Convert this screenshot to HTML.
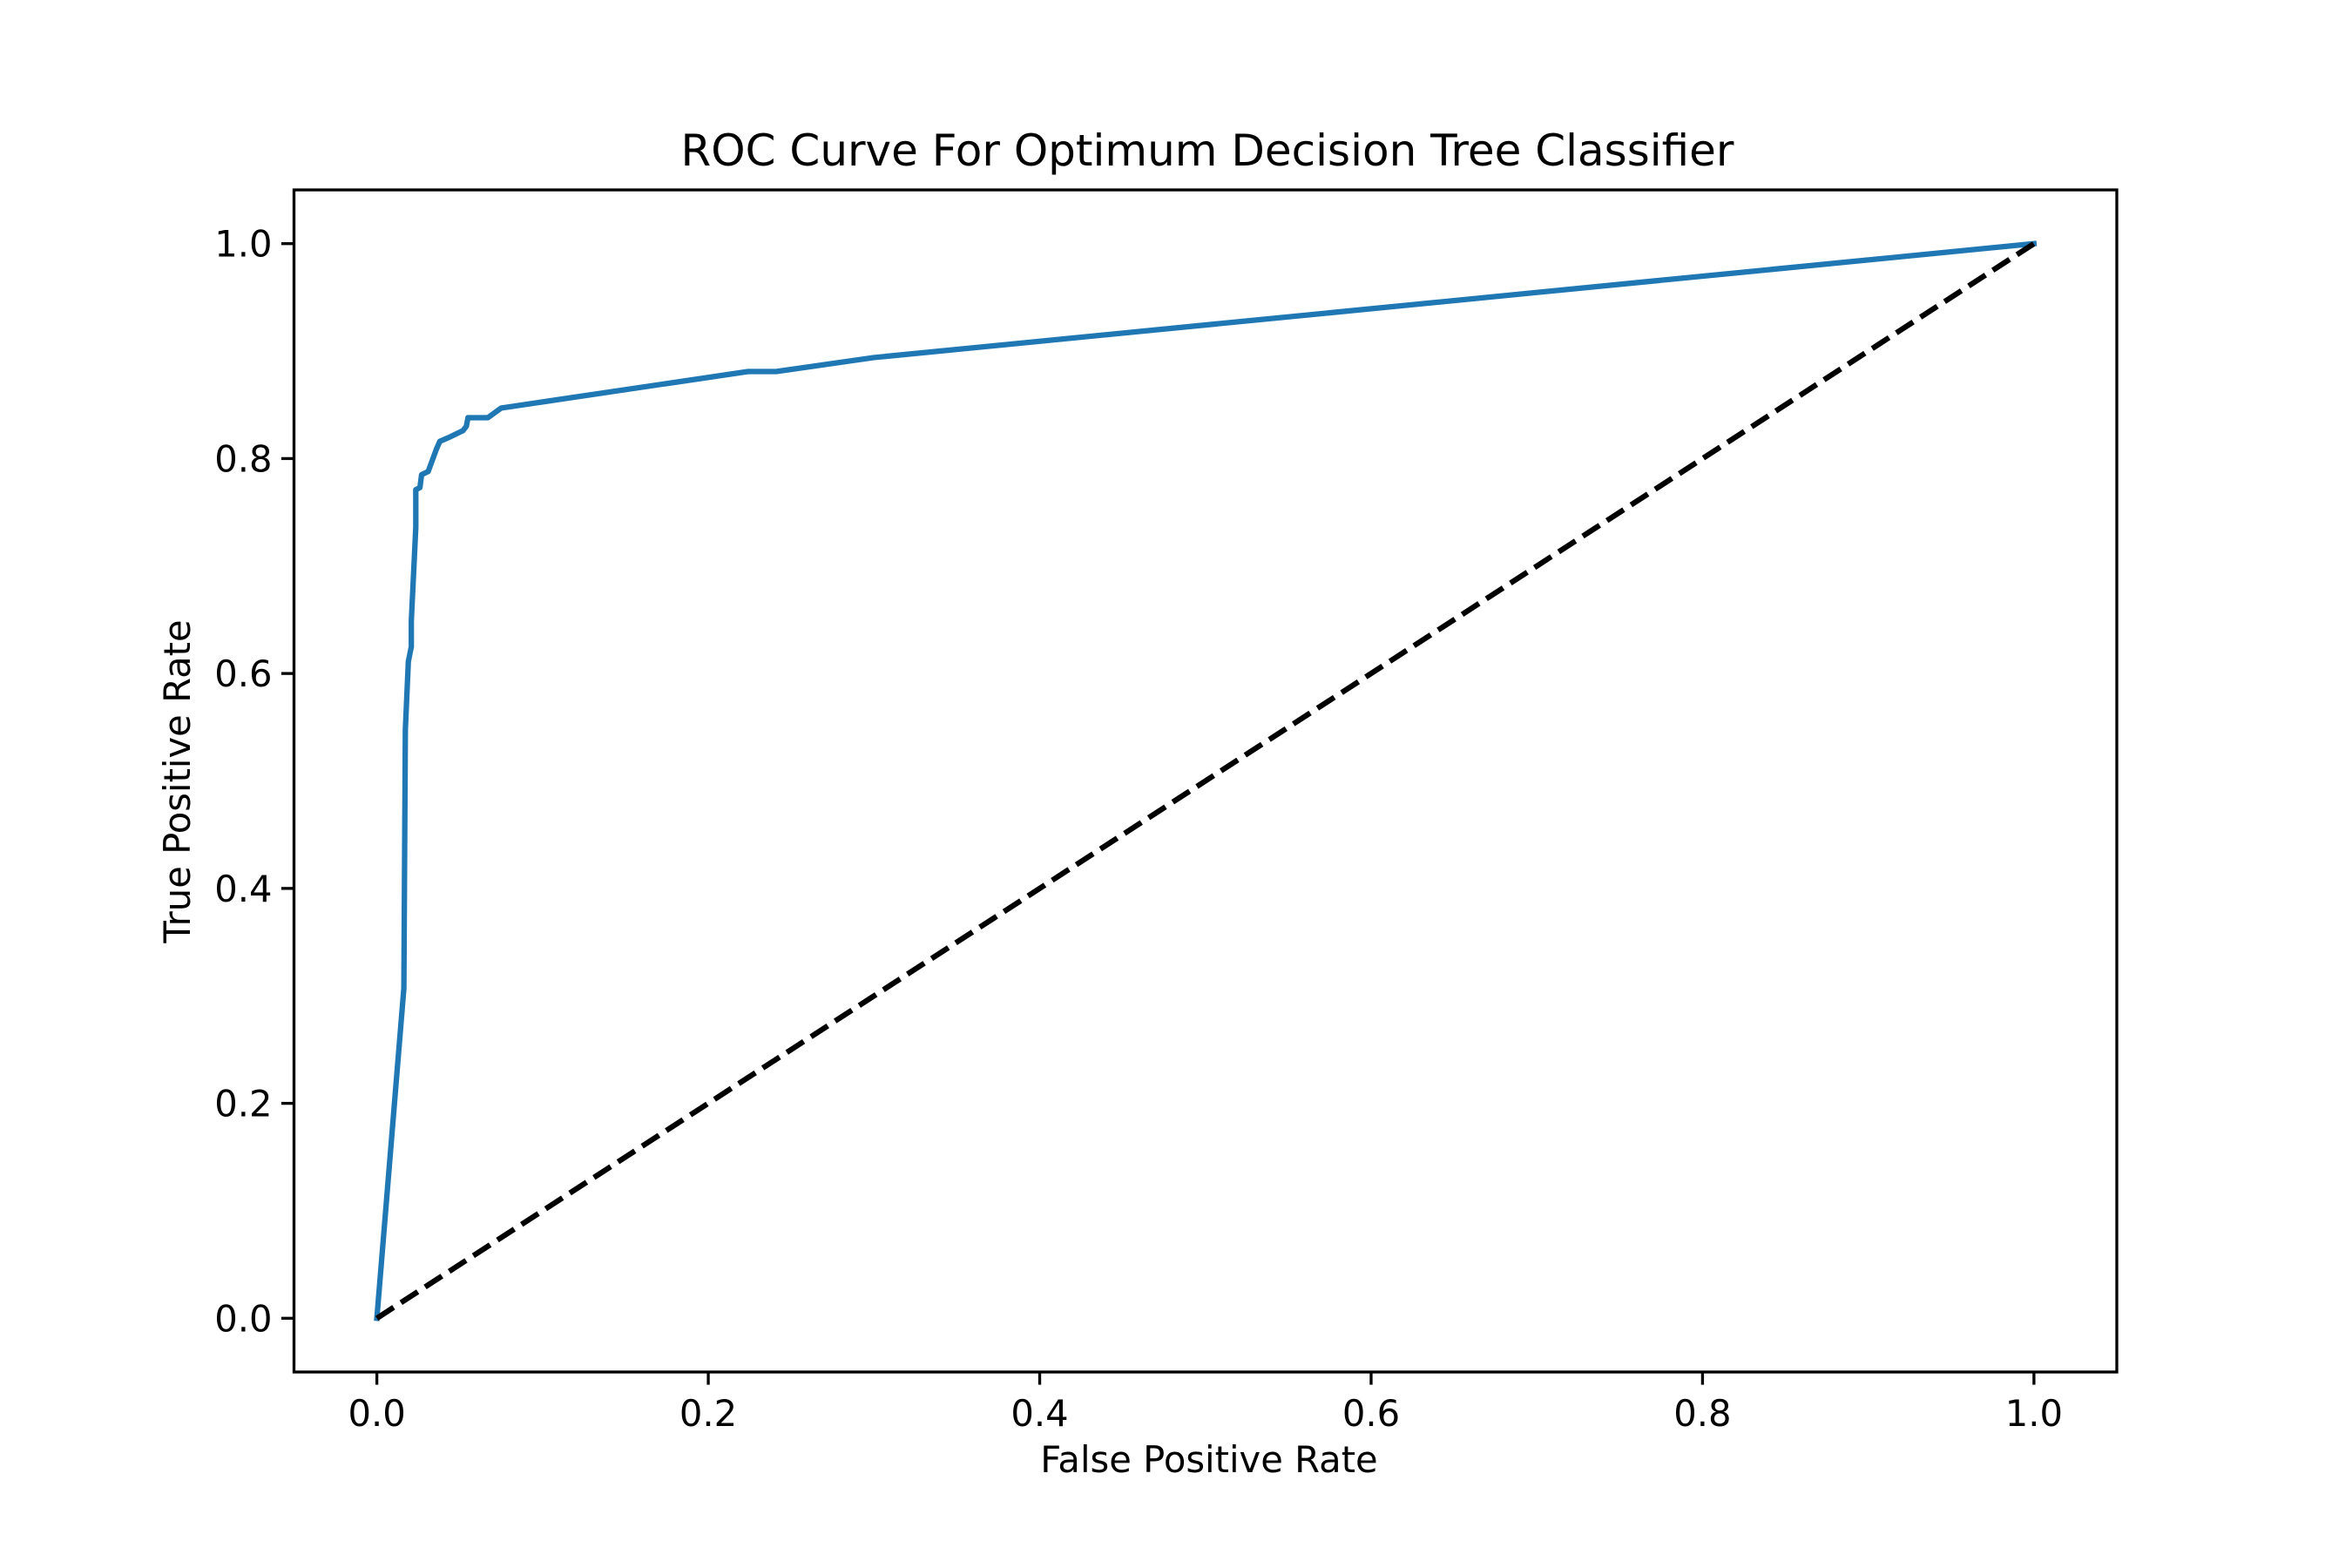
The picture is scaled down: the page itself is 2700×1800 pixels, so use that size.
<!DOCTYPE html>
<html><head><meta charset="utf-8"><style>
html,body{margin:0;padding:0;background:#fff}
svg{display:block}
text{font-family:"DejaVu Sans","Liberation Sans",sans-serif;fill:#000}
</style></head><body>
<svg id="chart" width="2700" height="1800" viewBox="0 0 2700 1800">
<rect width="2700" height="1800" fill="#fff"/>
<text x="1386" y="190" font-size="50" text-anchor="middle">ROC Curve For Optimum Decision Tree Classifier</text>
<g id="plot"></g>
<text x="1388" y="1690" font-size="41.7" text-anchor="middle">False Positive Rate</text>
<text x="0" y="0" font-size="41.7" text-anchor="middle" transform="translate(218,897) rotate(-90)">True Positive Rate</text>
</svg>
<script>
const fpr = [0, 0.0163, 0.0172, 0.019, 0.0208, 0.0208, 0.0235, 0.0235, 0.026, 0.027, 0.031, 0.036, 0.038, 0.044, 0.052, 0.054, 0.055, 0.067, 0.075, 0.224, 0.241, 0.300, 1];
const tpr = [0, 0.307, 0.548, 0.611, 0.625, 0.649, 0.736, 0.771, 0.773, 0.785, 0.788, 0.809, 0.816, 0.820, 0.826, 0.830, 0.838, 0.838, 0.847, 0.881, 0.881, 0.894, 1];
const chanceX = [0, 1];
const chanceY = [0, 1];
const xTicks = [0, 0.2, 0.4, 0.6, 0.8, 1.0];
const yTicks = [0, 0.2, 0.4, 0.6, 0.8, 1.0];
const xTickLabels = ["0.0", "0.2", "0.4", "0.6", "0.8", "1.0"];
const yTickLabels = ["0.0", "0.2", "0.4", "0.6", "0.8", "1.0"];

const L = 337.5, R = 2430, T = 218, B = 1575;
const xmin = -0.05, xmax = 1.05, ymin = -0.05, ymax = 1.05;
function sx(v){ return L + (v - xmin) / (xmax - xmin) * (R - L); }
function sy(v){ return B - (v - ymin) / (ymax - ymin) * (B - T); }
const NS = "http://www.w3.org/2000/svg";
const g = document.getElementById("plot");
function mk(tag, attrs){ const e = document.createElementNS(NS, tag); for (const k in attrs) e.setAttribute(k, attrs[k]); g.appendChild(e); return e; }

const roc = mk("polyline", {points: fpr.map((x,i)=>sx(x)+","+sy(tpr[i])).join(" "), fill:"none", stroke:"#1f77b4", "stroke-width":6.25, "stroke-linejoin":"round", "stroke-linecap":"square"});


const ch = mk("polyline", {points: chanceX.map((x,i)=>sx(x)+","+sy(chanceY[i])).join(" "), fill:"none", stroke:"#000", "stroke-width":6.25, "stroke-dasharray":"23 10"});



const frame = mk("rect", {x:L, y:T, width:R-L, height:B-T, fill:"none", stroke:"#000", "stroke-width":3.33});



xTicks.forEach((v,i)=>{
  const t = mk("line", {x1:sx(v), x2:sx(v), y1:B, y2:B+14.6, stroke:"#000", "stroke-width":3.33});
  
  
  const l = mk("text", {x:sx(v), y:B+62, "font-size":41.7, "text-anchor":"middle"});
  l.textContent = xTickLabels[i];
  
  
});
yTicks.forEach((v,i)=>{
  const t = mk("line", {x1:L-14.6, x2:L, y1:sy(v), y2:sy(v), stroke:"#000", "stroke-width":3.33});
  
  
  const l = mk("text", {x:L-25, y:sy(v)+15, "font-size":41.7, "text-anchor":"end"});
  l.textContent = yTickLabels[i];
  
  
});
</script>
</body></html>
